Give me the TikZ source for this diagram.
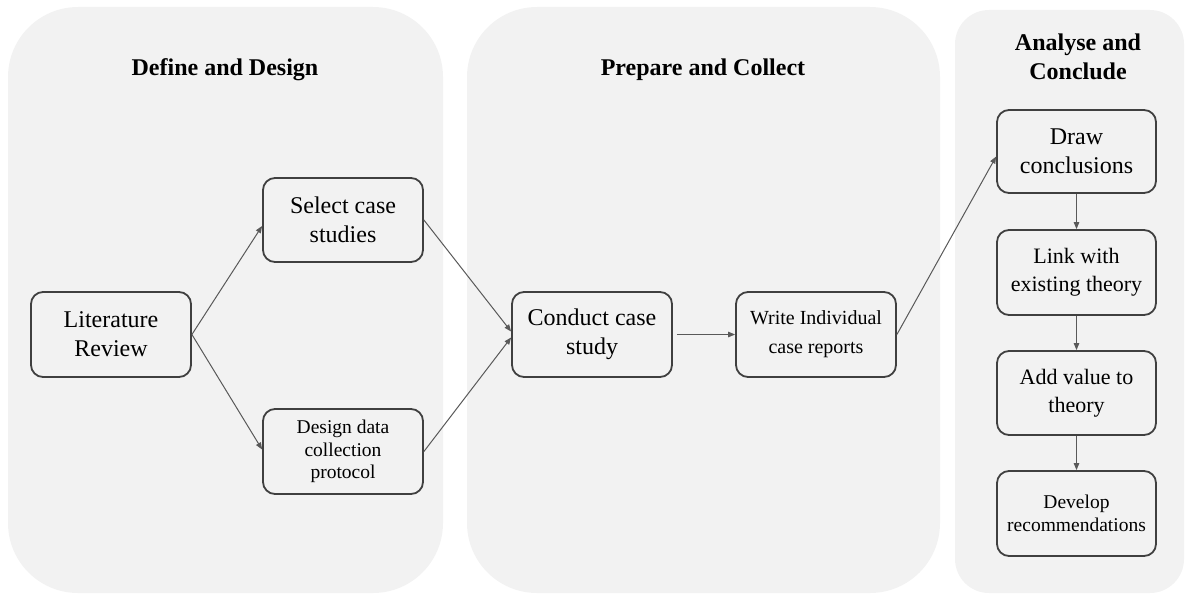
\documentclass[tikz,border=0pt]{standalone}
\usepackage{fontspec}
\setmainfont{Liberation Serif}
\usetikzlibrary{arrows.meta,calc}

\definecolor{panelgray}{HTML}{F2F2F2}
\definecolor{boxline}{HTML}{404040}
\definecolor{arrowgray}{HTML}{595959}

\tikzset{
  panel/.style={fill=panelgray, draw=none},
  stagebox/.style={draw=boxline, line width=1.8pt, rounded corners=12pt,
    align=center, inner sep=2pt, minimum width=160pt, minimum height=85pt,
    font=\fontsize{24}{29}\selectfont},
  smalltext/.style={font=\fontsize{19.5}{22.5}\selectfont},
  midtext/.style={font=\fontsize{22}{28}\selectfont},
  stagetitle/.style={align=center, font=\fontsize{24}{29}\selectfont\bfseries},
  flow/.style={draw=arrowgray, line width=1pt,
    -{Triangle[length=7pt,width=5.5pt]}}
}

\begin{document}
\begin{tikzpicture}[x=1pt,y=-1pt]
\useasboundingbox (0,0) rectangle (1185,594);

% three phase panels
\fill[panel, rounded corners=70pt] (8,7) rectangle (443,593);
\fill[panel, rounded corners=70pt] (467,7) rectangle (940,593);
\fill[panel, rounded corners=34pt] (955,10) rectangle (1184,593);

% phase titles
\node[stagetitle, anchor=base] (t1) at (225,75) {Define and Design};
\node[stagetitle, anchor=base] (t2) at (703,75) {Prepare and Collect};
\node[stagetitle] (t3) at (1078,57) {Analyse and\\Conclude};

% process steps
\node[stagebox] (lit) at (111,334.5) {Literature\\Review};
\node[stagebox, minimum height=84pt] (sel) at (343,220) {Select case\\studies};
\node[stagebox, smalltext] (des) at (343,451.5) {Design data\\collection\\protocol};
\node[stagebox] (con) at (592,334.5) {Conduct case\\study};
\node[stagebox, font=\fontsize{20}{29}\selectfont] (wri) at (816,334.5) {Write Individual\\case reports};

\node[stagebox, minimum width=159pt, minimum height=83pt] (dra) at (1076.5,151.5) {Draw\\conclusions};
\node[stagebox, midtext, minimum width=159pt] (lnk) at (1076.5,272.5) {Link with\\existing theory};
\node[stagebox, midtext, minimum width=159pt, minimum height=84pt] (add) at (1076.5,393) {Add value to\\theory};
\node[stagebox, smalltext, minimum width=159pt] (dev) at (1076.5,513.5) {Develop\\recommendations};

% connectors
\draw[flow] (lit.east) -- ([yshift=-6pt]sel.west);
\draw[flow] (lit.east) -- ([yshift=2pt]des.west);
\draw[flow] (sel.east) -- ([yshift=3pt]con.west);
\draw[flow] (des.east) -- ([yshift=-3pt]con.west);
\draw[flow] ([xshift=4pt]con.east) -- (wri.west);
\draw[flow] (wri.east) -- ([yshift=-5pt]dra.west);
\draw[flow] (dra.south) -- (lnk.north);
\draw[flow] (lnk.south) -- (add.north);
\draw[flow] (add.south) -- (dev.north);
\end{tikzpicture}
\end{document}
